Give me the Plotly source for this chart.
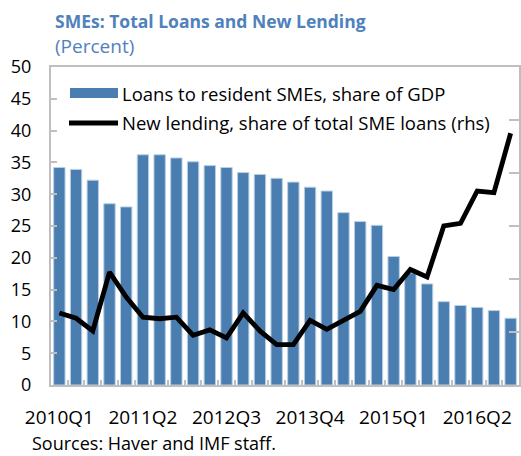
import plotly.graph_objects as go

# Quarters 2010Q1 .. 2016Q4
quarters = [f"{y}Q{q}" for y in range(2010, 2017) for q in range(1, 5)]

# Loans to resident SMEs, share of GDP (lhs, percent)
loans_gdp = [34.2, 33.9, 32.2, 28.5, 28.0, 36.2, 36.2, 35.7, 35.1, 34.5,
             34.2, 33.4, 33.1, 32.5, 31.9, 31.1, 30.5, 27.1, 25.7, 25.1,
             20.2, 17.6, 15.9, 13.1, 12.5, 12.2, 11.7, 10.5]

# New lending, share of total SME loans (rhs, percent)
new_lending = [13.6, 12.6, 10.2, 21.3, 16.6, 12.8, 12.5, 12.8, 9.4, 10.4,
               8.9, 13.6, 10.2, 7.6, 7.6, 12.2, 10.5, 12.2, 13.9, 18.8,
               18.0, 21.8, 20.4, 30.0, 30.5, 36.6, 36.3, 47.5]

label_every = 5
tick_text = [q if i % label_every == 0 else "" for i, q in enumerate(quarters)]

BLUE = "#4A7EB0"
TITLE_BLUE = "#4F81BD"
AXIS_GRAY = "#BFBFBF"
FONT = "Open Sans"

W, H = 521, 456
ML, MR, MT, MB = 51, 2, 67, 71
PW, PH = W - ML - MR, H - MT - MB


def px_x(x):
    return (x - ML) / PW


def px_y(y):
    return (H - MB - y) / PH


fig = go.Figure()
fig.add_trace(go.Bar(
    x=quarters, y=loans_gdp, name="Loans to resident SMEs, share of GDP",
    marker=dict(color=BLUE, line=dict(color="#B9CFE4", width=1)),
    yaxis="y", showlegend=False,
))
fig.add_trace(go.Scatter(
    x=quarters, y=new_lending, name="New lending, share of total SME loans (rhs)",
    mode="lines", line=dict(color="black", width=4.8),
    yaxis="y2", showlegend=False,
))

# Legend drawn by hand so the keys are wide like the original style
shapes = [
    dict(type="rect", xref="paper", yref="paper",
         x0=px_x(70), x1=px_x(118), y0=px_y(98), y1=px_y(88),
         fillcolor=BLUE, line=dict(width=0)),
    dict(type="line", xref="paper", yref="paper",
         x0=px_x(69), x1=px_x(118), y0=px_y(123), y1=px_y(123),
         line=dict(color="black", width=4.8)),
]

annotations = [
    dict(text="Loans to resident SMEs, share of GDP", xref="paper", yref="paper",
         x=px_x(120), y=px_y(93), xanchor="left", yanchor="middle", showarrow=False,
         font=dict(family=FONT, size=18.5, color="black")),
    dict(text="New lending, share of total SME loans (rhs)", xref="paper", yref="paper",
         x=px_x(120), y=px_y(123), xanchor="left", yanchor="middle", showarrow=False,
         font=dict(family=FONT, size=18.5, color="black")),
    dict(text="<b>SMEs: Total Loans and New Lending</b>", xref="paper", yref="paper",
         x=px_x(53), y=px_y(21), xanchor="left", yanchor="middle", showarrow=False,
         font=dict(family=FONT, size=17.5, color=TITLE_BLUE)),
    dict(text="(Percent)", xref="paper", yref="paper",
         x=px_x(53), y=px_y(46), xanchor="left", yanchor="middle", showarrow=False,
         font=dict(family=FONT, size=19, color=TITLE_BLUE)),
    dict(text="Sources: Haver and IMF staff.", xref="paper", yref="paper",
         x=px_x(30), y=px_y(443), xanchor="left", yanchor="middle", showarrow=False,
         font=dict(family=FONT, size=18, color="black")),
]

fig.update_layout(
    width=W, height=H,
    margin=dict(l=ML, r=MR, t=MT, b=MB, pad=0),
    paper_bgcolor="white", plot_bgcolor="white",
    bargap=0.32,
    font=dict(family=FONT, size=17, color="black"),
    shapes=shapes, annotations=annotations,
    xaxis=dict(
        type="category", tickmode="array", tickvals=quarters, ticktext=tick_text,
        tickson="boundaries", ticks="inside", ticklen=5, tickwidth=1.5, tickcolor=AXIS_GRAY,
        showline=True, linecolor=AXIS_GRAY, linewidth=2, mirror=True,
        showgrid=False, zeroline=False, tickangle=0, ticklabelstandoff=14,
        tickfont=dict(family=FONT, size=19, color="black"),
        range=[-0.5, len(quarters) - 0.5],
    ),
    yaxis=dict(
        range=[0, 50], dtick=5, ticks="inside", ticklen=6, tickwidth=1.5, tickcolor=AXIS_GRAY,
        showline=True, linecolor=AXIS_GRAY, linewidth=2,
        showgrid=False, zeroline=False, ticklabelstandoff=14,
        tickfont=dict(family=FONT, size=18, color="black"),
    ),
    yaxis2=dict(
        range=[0, 60], dtick=10, overlaying="y", side="right",
        ticks="inside", ticklen=10, tickwidth=1.5, tickcolor=AXIS_GRAY,
        showline=True, linecolor=AXIS_GRAY, linewidth=2,
        showticklabels=False, showgrid=False, zeroline=False,
    ),
)

fig.write_html("out.html")
